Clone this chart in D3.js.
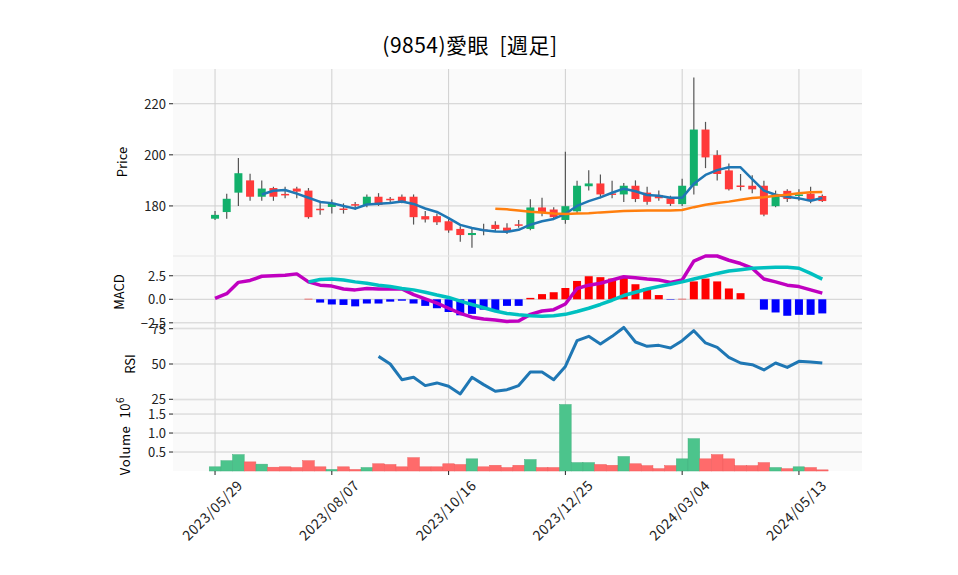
<!DOCTYPE html>
<html><head><meta charset="utf-8">
<script src="https://cdn.jsdelivr.net/npm/d3@7"></script>
<style>
body{margin:0;background:#fff;font-family:"Noto Sans CJK JP","DejaVu Sans",sans-serif;}
.tk{font-size:13px;fill:#222;}
</style></head><body>
<svg id="chart" width="958" height="575"></svg>
<script>
// weekly candles 2023/05/29 .. 2024/05/27
var opens  = [175,177.6,185.2,190,183.6,187,184.7,186.8,186,178.9,179.6,179,180.7,180.4,183.6,182.8,183.6,183.6,176,176,174,171,168.6,170.8,172.6,171.5,172.8,171,179.4,178.6,174.5,177.9,187.7,188.8,184.9,184.5,187.9,185.2,184.3,183,180.7,187.9,209.9,199.9,193.9,188,187.9,187.9,179.9,185.9,183.9,184.8,183.9];
var closes = [176.5,182.8,192.8,183.6,186.8,183.6,184.5,185.6,175.6,178.6,181.2,178.8,180.5,183.6,180.4,182.5,181.8,175.6,174.7,173.6,170.4,168.6,169.4,170.6,171,169.8,172.5,179.4,177.2,175.6,179.9,187.9,188.8,184.5,184.7,187.9,182.7,181.6,183,180.8,187.9,209.9,199,192.5,186.5,187.8,186.5,176.6,184.5,182.7,184.5,181.9,181.9];
var highs  = [178,184.8,198.8,192.6,190,187.5,187.5,187.5,187,182,182.5,181,181.5,184.5,185,183.5,184.5,184.5,178,177,175.2,172,171,173,174,173.2,174.5,182.6,183.2,179.5,201.2,189.9,194,192.3,189.9,189,190,187.5,186,184,190.6,230.3,212.9,201.8,196.6,192.5,192,189.9,186,186.5,186.5,187.5,184.5];
var lows   = [174.5,175,180,182,182,182,183,183,175,176.5,177,177,178.5,179.5,180,181,181,172.7,173.5,172.5,169.5,166,163.6,168.5,170,169,171.5,170.5,176,175,173,177,186,183,183,181.5,181.5,180.5,182,180,180,184.5,194.8,190,186,186,185,176,179.5,181.5,182,181,181.5];
var volumes = [0.11,0.27,0.43,0.24,0.18,0.10,0.11,0.09,0.27,0.11,0.04,0.11,0.04,0.09,0.19,0.17,0.11,0.35,0.11,0.11,0.19,0.17,0.32,0.11,0.15,0.09,0.15,0.30,0.09,0.09,1.75,0.22,0.22,0.17,0.15,0.38,0.19,0.14,0.06,0.14,0.32,0.85,0.32,0.43,0.32,0.14,0.14,0.22,0.09,0.06,0.11,0.09,0.03];
var macd = [0.1,0.6,1.8,2.0,2.45,2.5,2.55,2.7,1.85,1.5,1.4,1.1,1.0,1.15,1.1,1.1,1.1,0.5,0.05,-0.4,-0.95,-1.5,-1.9,-2.1,-2.2,-2.35,-2.3,-1.6,-1.25,-1.1,-0.5,1.15,1.5,1.7,2.05,2.4,2.3,2.15,2.05,1.8,2.05,4.05,4.6,4.6,4.15,3.8,3.3,2.15,1.85,1.5,1.35,1.0,0.65];
var signal = [null,null,null,null,null,null,null,null,1.85,2.1,2.15,2.05,1.85,1.7,1.5,1.35,1.15,1.0,0.75,0.45,0.2,-0.2,-0.55,-0.9,-1.25,-1.5,-1.65,-1.75,-1.8,-1.75,-1.6,-1.3,-0.95,-0.55,-0.1,0.4,0.75,1.1,1.35,1.6,1.85,2.15,2.45,2.75,3.0,3.15,3.3,3.35,3.4,3.4,3.3,2.75,2.15];
var hist = [null,null,null,null,null,null,null,null,0.05,-0.35,-0.55,-0.6,-0.75,-0.45,-0.45,-0.25,-0.15,-0.45,-0.7,-0.95,-1.35,-1.7,-1.55,-1.1,-1.2,-0.7,-0.7,0.15,0.55,0.75,1.2,1.95,2.45,2.35,2.2,2.4,1.6,1.2,0.45,-0.05,0.05,1.9,2.2,1.9,1.15,0.65,0,-1.1,-1.4,-1.75,-1.65,-1.65,-1.5];
var rsi = [null,null,null,null,null,null,null,null,null,null,null,null,null,null,55.4,50,38.9,40.6,34.7,36.6,34.2,28.8,40.6,35.4,30.7,31.8,34.7,44.3,44.3,38.9,48.3,66.5,69.6,64.2,69.6,75.9,65.6,62.5,63.2,61.3,66.5,73.6,64.9,61.8,54.7,50.7,49.5,45.8,50.7,47.6,51.9,51.4,50.7];
var tickIdx = [0,10,20,30,40,50];
var tickLabels = ["2023/05/29","2023/08/07","2023/10/16","2023/12/25","2024/03/04","2024/05/13"];

function sma(arr, n) {
  return arr.map(function(d, i) {
    if (i < n - 1) return null;
    return d3.mean(arr.slice(i - n + 1, i + 1));
  });
}
var ma5 = sma(closes, 5), ma25 = sma(closes, 25);

var svg = d3.select("#chart");
var L = 173, R = 862;
var x = d3.scaleLinear().domain([-3.6, 55.4]).range([L, R]);

var panels = {
  price: {top: 69, bot: 256, y: d3.scaleLinear().domain([160.4, 233.6]).range([256, 69])},
  macd:  {top: 256, bot: 328, y: d3.scaleLinear().domain([-3.05, 4.6]).range([328, 256])},
  rsi:   {top: 328, bot: 400, y: d3.scaleLinear().domain([24.5, 75.5]).range([400, 328])},
  vol:   {top: 400, bot: 471, y: d3.scaleLinear().domain([0, 1.87]).range([471, 400])}
};

svg.append("text").attr("x", 470).attr("y", 53).attr("text-anchor", "middle")
  .attr("xml:space", "preserve").style("white-space", "pre")
  .style("font-size", "21px").style("letter-spacing", "0.5px").text("(9854)愛眼  [週足]");

function drawPanel(p, ticks, fmt) {
  var g = svg.append("g");
  g.append("rect").attr("x", L).attr("y", p.top).attr("width", R - L).attr("height", p.bot - p.top).attr("fill", "#fafafa");
  g.selectAll(".vg").data(tickIdx).enter().append("line")
    .attr("x1", d => x(d)).attr("x2", d => x(d)).attr("y1", p.top).attr("y2", p.bot)
    .attr("stroke", "#cfcfcf").attr("stroke-width", 1);
  g.selectAll(".hg").data(ticks).enter().append("line")
    .attr("x1", L).attr("x2", R).attr("y1", d => p.y(d)).attr("y2", d => p.y(d))
    .attr("stroke", "#cfcfcf").attr("stroke-width", 1);
  g.selectAll(".tm").data(ticks).enter().append("line")
    .attr("x1", L - 4).attr("x2", L).attr("y1", d => p.y(d)).attr("y2", d => p.y(d)).attr("stroke", "#222");
  g.selectAll(".tl").data(ticks).enter().append("text").attr("class", "tk")
    .attr("x", L - 7).attr("y", d => p.y(d) + 5).attr("text-anchor", "end").text(fmt);
}
drawPanel(panels.price, [180, 200, 220], d => d);
drawPanel(panels.macd, [-2.5, 0, 2.5], d => d3.format(".1f")(d).replace("-", "\u2212"));
drawPanel(panels.rsi, [25, 50, 75], d => d);
drawPanel(panels.vol, [0.5, 1.0, 1.5], d => d3.format(".1f")(d));
// separator lines between panels
[256, 328, 400].forEach(function(yy) {
  svg.append("line").attr("x1", L).attr("x2", R).attr("y1", yy).attr("y2", yy).attr("stroke", "#e6e6e6");
});

function ylab(t, xx, yy) {
  svg.append("text").attr("transform", "translate(" + xx + "," + yy + ") rotate(-90)")
    .attr("text-anchor", "middle").style("font-size", "13px").text(t);
}
ylab("Price", 127, 162);
ylab("MACD", 124, 292);
ylab("RSI", 135, 364);
var vl = svg.append("text").attr("transform", "translate(130,436) rotate(-90)")
  .attr("text-anchor", "middle").style("font-size", "13px").style("letter-spacing", "0.6px");
vl.append("tspan").attr("xml:space", "preserve").text("Volume  10");
vl.append("tspan").attr("dy", -6).style("font-size", "10px").text("6");

var up = "#12b06b", dn = "#ff3a3a";
var P = panels.price, idx = d3.range(closes.length);

// candles
var cg = svg.append("g");
cg.selectAll(".wick").data(idx).enter().append("line")
  .attr("x1", i => x(i)).attr("x2", i => x(i))
  .attr("y1", i => P.y(highs[i])).attr("y2", i => P.y(lows[i]))
  .attr("stroke", "#555").attr("stroke-width", 1.2);
cg.selectAll(".body").data(idx).enter().append("rect")
  .attr("x", i => x(i) - 4).attr("width", 8)
  .attr("y", i => P.y(Math.max(opens[i], closes[i])))
  .attr("height", i => Math.max(1.5, Math.abs(P.y(opens[i]) - P.y(closes[i]))))
  .attr("fill", i => closes[i] >= opens[i] ? up : dn);

function path(g, arr, y, color, w) {
  var line = d3.line().defined(d => d[1] != null).x(d => x(d[0])).y(d => y(d[1]));
  g.append("path").datum(arr.map((v, i) => [i, v])).attr("d", line)
    .attr("fill", "none").attr("stroke", color).attr("stroke-width", w).attr("stroke-linejoin", "round");
}
path(svg, ma5, P.y, "#1f77b4", 2.5);
path(svg, ma25, P.y, "#ff7f0e", 2.5);

// MACD
var M = panels.macd;
svg.append("g").selectAll("rect").data(idx.filter(i => hist[i] != null && hist[i] != 0)).enter().append("rect")
  .attr("x", i => x(i) - 4).attr("width", 8)
  .attr("y", i => M.y(Math.max(0, hist[i])))
  .attr("height", i => Math.abs(M.y(hist[i]) - M.y(0)))
  .attr("fill", i => hist[i] > 0 ? "#ff0000" : "#0000ff");
path(svg, macd, M.y, "#c000c0", 3.5);
path(svg, signal, M.y, "#00c0c0", 3.5);

// RSI
path(svg, rsi, panels.rsi.y, "#1f77b4", 3);

// volume
var V = panels.vol;
svg.append("g").selectAll("rect").data(idx).enter().append("rect")
  .attr("x", i => x(i) - 5.8).attr("width", 11.6)
  .attr("y", i => V.y(volumes[i])).attr("height", i => V.y(0) - V.y(volumes[i]))
  .attr("fill", i => closes[i] >= opens[i] ? "#4cc48c" : "#ff6b6b")
  .attr("stroke", i => closes[i] >= opens[i] ? "#3fb07c" : "#f05a5a").attr("stroke-width", 0.5);

// x axis
svg.selectAll(".xt").data(tickIdx).enter().append("line")
  .attr("x1", i => x(i)).attr("x2", i => x(i)).attr("y1", 471).attr("y2", 475).attr("stroke", "#222");
svg.selectAll(".xl").data(tickIdx).enter().append("text").attr("class", "tk")
  .style("font-size", "14px").style("letter-spacing", "0.5px")
  .attr("transform", (i) => "translate(" + (x(i) + 1) + ",514) rotate(-45)")
  .attr("text-anchor", "middle").text((i, k) => tickLabels[k]);
</script>
</body></html>
